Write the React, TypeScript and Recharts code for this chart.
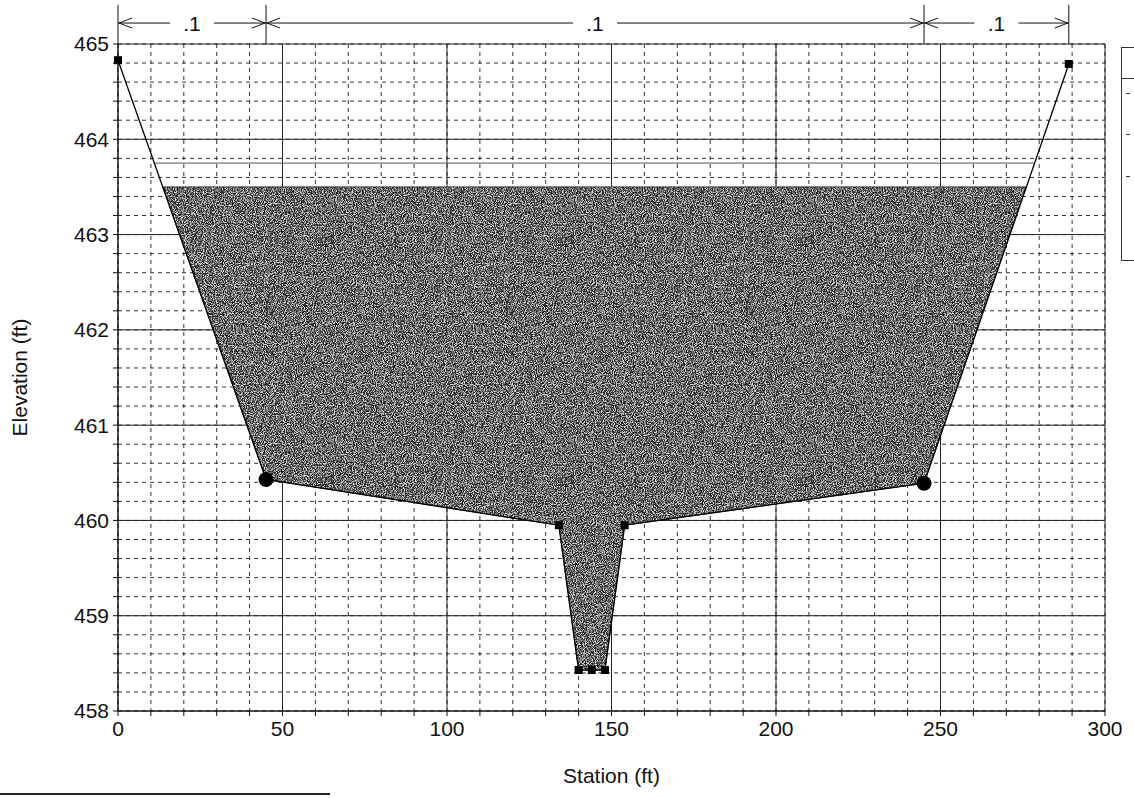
import {
  ComposedChart,
  Area,
  Line,
  XAxis,
  YAxis,
  CartesianGrid,
  ReferenceLine
} from 'recharts'

// ground profile (station ft, elevation ft)
const groundStation = [0, 45, 134, 140, 144, 148, 154, 245, 289];
const groundElev = [464.83, 460.43, 459.95, 458.43, 458.43, 458.43, 459.95, 460.39, 464.79];
// bank stations are drawn as circles, the rest as squares
const groundMarker = ['square', 'circle', 'square', 'square', 'square', 'square', 'square', 'circle', 'square'];

// wetted section under the water surface
const waterStation = [13.6, 45, 134, 140, 144, 148, 154, 245, 276];
const waterBed = [463.5, 460.43, 459.95, 458.43, 458.43, 458.43, 459.95, 460.39, 463.5];
const waterSurface = 463.5;

// energy grade line
const egStation = [11, 278.6];
const egElev = [463.75, 463.75];

// Manning's n regions across the top
const nBreaks = [0, 45, 245, 289];
const nLabels = ['.1', '.1', '.1'];

const xMajor = [0, 50, 100, 150, 200, 250, 300];
const yMajor = [458, 459, 460, 461, 462, 463, 464, 465];

// minor grid every 10 ft / 0.2 ft
const xMinor = Array.from({ length: 31 }, (_, i) => i * 10);
const yMinor = Array.from({ length: 36 }, (_, i) => Number((458 + i * 0.2).toFixed(1)));

const groundData = groundStation.map((s, i) => ({ station: s, ground: groundElev[i], kind: groundMarker[i] }));
const waterData = waterStation.map((s, i) => ({ station: s, water: [waterBed[i], waterSurface] }));
const egData = egStation.map((s, i) => ({ station: s, eg: egElev[i] }));

const FONT = '"Liberation Sans", Arial, sans-serif';
const DIM_Y = 465.22;

const GroundDot = (props: any) => {
  const { cx, cy, payload, index } = props;
  if (cx == null || cy == null) return null;
  if (payload.kind === 'circle') {
    return <circle key={`d${index}`} cx={cx} cy={cy} r={7.5} fill="#000" />;
  }
  return <rect key={`d${index}`} x={cx - 4} y={cy - 4} width={8} height={8} fill="#000" />;
};

// dimension line with open arrowheads and a label in a gap
const DimLine = (props: any) => {
  const { x1, y1, x2, text } = props;
  const cx = (x1 + x2) / 2;
  const gap = 22;
  const y = y1;
  return (
    <g stroke="#111" strokeWidth={1} fill="none">
      <line x1={x1} y1={y} x2={cx - gap} y2={y} />
      <line x1={cx + gap} y1={y} x2={x2} y2={y} />
      <polyline points={`${x1 + 14},${y - 5} ${x1 + 1},${y} ${x1 + 14},${y + 5}`} />
      <polyline points={`${x2 - 14},${y - 5} ${x2 - 1},${y} ${x2 - 14},${y + 5}`} />
      <text x={cx} y={y + 8} textAnchor="middle" fontSize={21} fontFamily={FONT} fill="#111" stroke="none">
        {text}
      </text>
    </g>
  );
};

export default function App() {
  return (
    <div style={{ position: 'absolute', left: 0, top: 0, width: 1134, height: 798, overflow: 'hidden', background: '#fff' }}>
      {/* grainy fill used for the flow area */}
      <svg width={0} height={0} style={{ position: 'absolute' }}>
        <defs>
          <filter id="grainFilter" x="0" y="0" width="100%" height="100%" colorInterpolationFilters="sRGB">
            <feTurbulence type="fractalNoise" baseFrequency="1.1" numOctaves={1} seed={3} result="n" />
            <feColorMatrix
              in="n"
              type="matrix"
              values="4 0 0 0 -1.6  4 0 0 0 -1.6  4 0 0 0 -1.6  0 0 0 0 1"
            />
          </filter>
          <pattern id="grain" patternUnits="userSpaceOnUse" width={240} height={240}>
            <rect width={240} height={240} fill="#6e6e6e" />
            <rect width={240} height={240} filter="url(#grainFilter)" opacity={0.7} />
          </pattern>
        </defs>
      </svg>
      <ComposedChart
        width={1134}
        height={798}
        margin={{ top: 44, right: 29, bottom: 15, left: 8 }}
      >
        <CartesianGrid
          stroke="#333"
          strokeDasharray="4 4"
          horizontalValues={yMinor}
          verticalValues={xMinor}
        />
        <CartesianGrid
          stroke="#222"
          horizontalValues={yMajor}
          verticalValues={xMajor}
        />
        <XAxis
          type="number"
          dataKey="station"
          domain={[0, 300]}
          ticks={xMinor}
          interval={0}
          allowDuplicatedCategory={false}
          tickFormatter={(v: number) => (v % 50 === 0 ? String(v) : '')}
          tick={{ fontSize: 21, fontFamily: FONT, fill: '#111' }}
          tickSize={5}
          tickMargin={5}
          height={72}
          stroke="#111"
          label={{ value: 'Station (ft)', position: 'insideBottom', offset: 0, fontSize: 21, fontFamily: FONT, fill: '#111' }}
        />
        <YAxis
          type="number"
          domain={[458, 465]}
          ticks={yMinor}
          interval={0}
          tickFormatter={(v: number) => (Number.isInteger(v) ? String(v) : '')}
          tick={{ fontSize: 21, fontFamily: FONT, fill: '#111' }}
          tickSize={5}
          tickMargin={4}
          width={110}
          stroke="#111"
          label={{
            value: 'Elevation (ft)',
            angle: -90,
            position: 'insideLeft',
            offset: 12,
            fontSize: 21,
            fontFamily: FONT,
            fill: '#111',
            style: { textAnchor: 'middle' }
          }}
        />
        <Area
          data={waterData}
          dataKey="water"
          type="linear"
          fill="url(#grain)"
          fillOpacity={1}
          stroke="#333"
          strokeWidth={1}
          isAnimationActive={false}
        />
        <Line
          data={egData}
          dataKey="eg"
          type="linear"
          stroke="#555"
          strokeWidth={1}
          dot={false}
          isAnimationActive={false}
        />
        <Line
          data={groundData}
          dataKey="ground"
          type="linear"
          stroke="#000"
          strokeWidth={1.3}
          dot={<GroundDot />}
          activeDot={false}
          isAnimationActive={false}
        />
        {nBreaks.map((b) => (
          <ReferenceLine
            key={`brk${b}`}
            segment={[{ x: b, y: 465 }, { x: b, y: 465.41 }]}
            stroke="#111"
            strokeWidth={1}
            ifOverflow="visible"
          />
        ))}
        {nLabels.map((t, i) => (
          <ReferenceLine
            key={`n${i}`}
            segment={[{ x: nBreaks[i], y: DIM_Y }, { x: nBreaks[i + 1], y: DIM_Y }]}
            ifOverflow="visible"
            shape={(p: any) => <DimLine {...p} text={t} />}
          />
        ))}
      </ComposedChart>
      {/* legend box, cut off at the right edge of the page */}
      <div style={{ position: 'absolute', left: 1121, top: 47, width: 20, height: 212, border: '1.5px solid #333', borderRight: 'none' }}>
        <div style={{ position: 'absolute', left: 0, top: 30, width: 20, borderTop: '1px solid #333' }} />
        <div style={{ position: 'absolute', left: 4, top: 45, width: 4, borderTop: '1px solid #333' }} />
        <div style={{ position: 'absolute', left: 4, top: 86, width: 4, borderTop: '1px solid #333' }} />
        <div style={{ position: 'absolute', left: 4, top: 128, width: 4, borderTop: '1px solid #333' }} />
      </div>
      <div style={{ position: 'absolute', left: 0, top: 793, width: 330, borderTop: '2px solid #222' }} />
    </div>
  );
}
